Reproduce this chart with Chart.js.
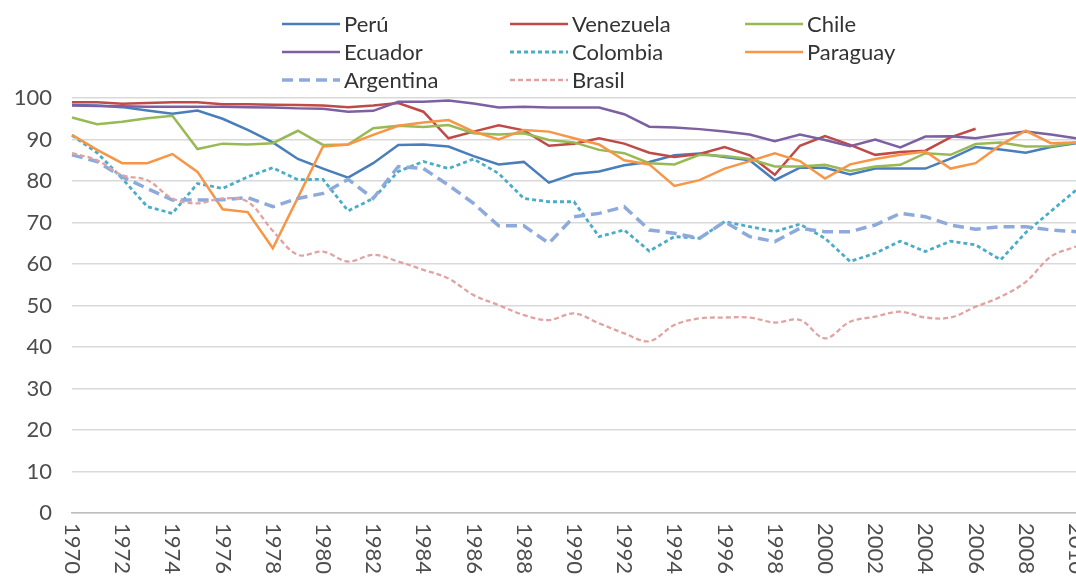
<!DOCTYPE html>
<html>
<head>
<meta charset="utf-8">
<script src="https://cdn.jsdelivr.net/npm/chart.js@4"></script>
<style>
    html, body { margin: 0; padding: 0; background: #ffffff; }
    #wrap { width: 1076px; height: 580px; position: relative; }
</style>
</head>
<body>
<div id="wrap"><canvas id="chart"></canvas></div>
<script>
// Categories
const years = ['1970', '1971', '1972', '1973', '1974', '1975', '1976', '1977', '1978', '1979',
    '1980', '1981', '1982', '1983', '1984', '1985', '1986', '1987', '1988', '1989',
    '1990', '1991', '1992', '1993', '1994', '1995', '1996', '1997', '1998', '1999',
    '2000', '2001', '2002', '2003', '2004', '2005', '2006', '2007', '2008', '2009',
    '2010'];

// Series values
const peru = [98.3, 98.2, 97.8, 97.0, 96.2, 97.0, 95.0, 92.3, 89.3, 85.3,
    83.0, 80.8, 84.3, 88.7, 88.8, 88.3, 86.0, 84.0, 84.6, 79.6,
    81.7, 82.3, 83.8, 84.6, 86.2, 86.6, 85.8, 85.0, 80.2, 83.2,
    83.2, 81.6, 83.0, 83.0, 83.0, 85.4, 88.2, 87.6, 86.8, 88.2,
    89.1];
const venezuela = [99.0, 99.0, 98.6, 98.8, 99.0, 99.0, 98.5, 98.5, 98.4, 98.3,
    98.2, 97.8, 98.2, 98.8, 96.7, 90.3, 91.9, 93.4, 92.2, 88.5,
    89.0, 90.3, 89.0, 86.8, 85.8, 86.5, 88.2, 86.2, 81.5, 88.5,
    90.8, 88.7, 86.3, 87.0, 87.3, 90.5, 92.6, null, null, null,
    null];
const chile = [95.3, 93.7, 94.3, 95.1, 95.7, 87.7, 89.0, 88.8, 89.1, 92.1,
    88.7, 88.8, 92.7, 93.3, 93.0, 93.5, 91.5, 91.2, 91.5, 89.9,
    89.3, 87.5, 86.7, 84.3, 84.0, 86.3, 86.0, 85.3, 83.5, 83.5,
    83.9, 82.4, 83.5, 83.9, 86.7, 86.3, 88.9, 89.3, 88.3, 88.4,
    89.3];
const ecuador = [98.2, 98.1, 98.0, 97.9, 97.9, 97.9, 97.9, 97.8, 97.7, 97.5,
    97.4, 96.7, 96.9, 99.1, 99.1, 99.4, 98.7, 97.7, 97.9, 97.7,
    97.7, 97.7, 96.1, 93.1, 92.9, 92.5, 91.9, 91.2, 89.6, 91.2,
    89.9, 88.4, 90.0, 88.1, 90.7, 90.8, 90.3, 91.2, 91.9, 91.2,
    90.3];
const colombia = [91.0, 86.8, 80.6, 73.8, 72.2, 79.4, 78.2, 81.0, 83.2, 80.3,
    80.4, 72.8, 75.8, 82.3, 84.7, 83.0, 85.3, 81.8, 75.8, 75.0,
    75.0, 66.6, 68.2, 63.1, 66.6, 66.2, 70.2, 69.0, 67.8, 69.6,
    66.2, 60.6, 62.6, 65.5, 63.0, 65.5, 64.6, 61.0, 67.6, 72.7,
    77.8];
const paraguay = [91.1, 87.5, 84.3, 84.3, 86.5, 82.2, 73.2, 72.5, 63.8, 76.0,
    88.3, 88.8, 91.1, 93.3, 94.1, 94.7, 91.9, 90.0, 92.3, 91.9,
    90.3, 88.8, 85.0, 84.0, 78.8, 80.2, 83.0, 84.8, 86.7, 84.8,
    80.6, 84.0, 85.3, 86.3, 87.1, 83.0, 84.3, 88.7, 92.1, 89.1,
    89.3];
const argentina = [86.3, 84.7, 81.0, 78.2, 75.4, 75.4, 75.5, 76.0, 73.8, 75.8,
    77.0, 80.4, 75.8, 83.5, 83.0, 79.0, 74.6, 69.2, 69.2, 65.0,
    71.4, 72.2, 73.8, 68.2, 67.4, 66.2, 70.2, 66.6, 65.4, 68.6,
    67.8, 67.8, 69.4, 72.2, 71.4, 69.4, 68.4, 69.0, 69.0, 68.2,
    67.8];
const brasil = [86.7, 85.0, 81.4, 80.2, 75.8, 74.6, 75.8, 75.0, 68.0, 62.2,
    63.0, 60.6, 62.2, 60.6, 58.6, 56.5, 52.5, 50.1, 47.7, 46.5,
    48.1, 45.7, 43.3, 41.4, 45.3, 46.9, 47.1, 47.1, 45.9, 46.5,
    42.1, 46.1, 47.3, 48.5, 47.1, 47.1, 49.7, 52.1, 55.7, 61.8,
    64.2];

// Axis range
const yMin = 0;
const yMax = 100;
const yStep = 10;

const FONT = 'Lato, "Open Sans", sans-serif';
const TEXT_COLOR = '#4d4d4d';

// Legend layout: 3 columns, 3 rows
const LEGEND_COL_X = [282, 510, 745];
const LEGEND_ROW_Y = [24, 52, 80];
const LEGEND_LINE = 58;

// Excel-like legend drawn as a fixed grid
const gridLegend = {
    id: 'gridLegend',
    afterDraw(chart) {
        const ctx = chart.ctx;
        ctx.save();
        ctx.font = '22px ' + FONT;
        ctx.textBaseline = 'middle';
        ctx.textAlign = 'left';
        chart.data.datasets.forEach((ds, i) => {
            const x = LEGEND_COL_X[i % 3];
            const y = LEGEND_ROW_Y[Math.floor(i / 3)];
            ctx.beginPath();
            ctx.strokeStyle = ds.borderColor;
            ctx.lineWidth = ds.borderWidth;
            ctx.setLineDash(ds.borderDash || []);
            ctx.moveTo(x, y);
            ctx.lineTo(x + LEGEND_LINE, y);
            ctx.stroke();
            ctx.setLineDash([]);
            ctx.fillStyle = '#333333';
            ctx.fillText(ds.label, x + LEGEND_LINE + 4, y + 1);
        });
        ctx.restore();
    }
};

// Year labels rotated clockwise (read top to bottom)
const yearLabels = {
    id: 'yearLabels',
    afterDraw(chart) {
        const ctx = chart.ctx;
        const xs = chart.scales.x;
        ctx.save();
        ctx.font = '22px ' + FONT;
        ctx.fillStyle = TEXT_COLOR;
        ctx.textAlign = 'left';
        ctx.textBaseline = 'middle';
        years.forEach((yr, i) => {
            if (i % 2 !== 0) return;
            const x = xs.getPixelForValue(i);
            ctx.save();
            ctx.translate(x, xs.top + 10);
            ctx.rotate(Math.PI / 2);
            ctx.fillText(yr, 0, 0);
            ctx.restore();
        });
        ctx.restore();
    }
};

const ctx = document.getElementById('chart');

new Chart(ctx, {
    type: 'line',
    data: {
        labels: years,
        datasets: [
            { label: 'Perú', data: peru, borderColor: '#4a7ebb', borderWidth: 2.5, order: 8 },
            { label: 'Venezuela', data: venezuela, borderColor: '#be4b48', borderWidth: 2.5, order: 7 },
            { label: 'Chile', data: chile, borderColor: '#98b954', borderWidth: 2.5, order: 6 },
            { label: 'Ecuador', data: ecuador, borderColor: '#7d60a0', borderWidth: 2.5, order: 5 },
            { label: 'Colombia', data: colombia, borderColor: '#4bacc6', borderWidth: 2.8, borderDash: [4, 3], order: 4 },
            { label: 'Paraguay', data: paraguay, borderColor: '#f79646', borderWidth: 2.5, order: 3 },
            { label: 'Argentina', data: argentina, borderColor: '#8eaadb', borderWidth: 3.5, borderDash: [11, 6], order: 2 },
            { label: 'Brasil', data: brasil, borderColor: '#e0a3a2', borderWidth: 2.3, borderDash: [5, 3], tension: 0.35, order: 1 }
        ]
    },
    options: {
        responsive: true,
        maintainAspectRatio: false,
        animation: false,
        layout: { padding: { top: 98, right: 0, bottom: 0, left: 0 } },
        elements: {
            point: { radius: 0, hoverRadius: 0 },
            line: { tension: 0, fill: false, borderCapStyle: 'butt' }
        },
        plugins: {
            legend: { display: false },
            tooltip: { enabled: false }
        },
        scales: {
            x: {
                type: 'category',
                offset: false,
                grid: { display: false, drawTicks: false },
                border: { display: true, color: '#bfbfbf', width: 1.5 },
                ticks: { display: false },
                afterFit: (scale) => { scale.height = 67; }
            },
            y: {
                min: yMin,
                max: yMax,
                grid: { color: '#d9d9d9', lineWidth: 1.5, drawTicks: false },
                border: { display: false },
                ticks: {
                    stepSize: yStep,
                    padding: 20,
                    color: TEXT_COLOR,
                    font: { family: FONT, size: 22 }
                },
                afterFit: (scale) => { scale.width = 72; }
            }
        }
    },
    plugins: [gridLegend, yearLabels]
});
</script>
</body>
</html>
